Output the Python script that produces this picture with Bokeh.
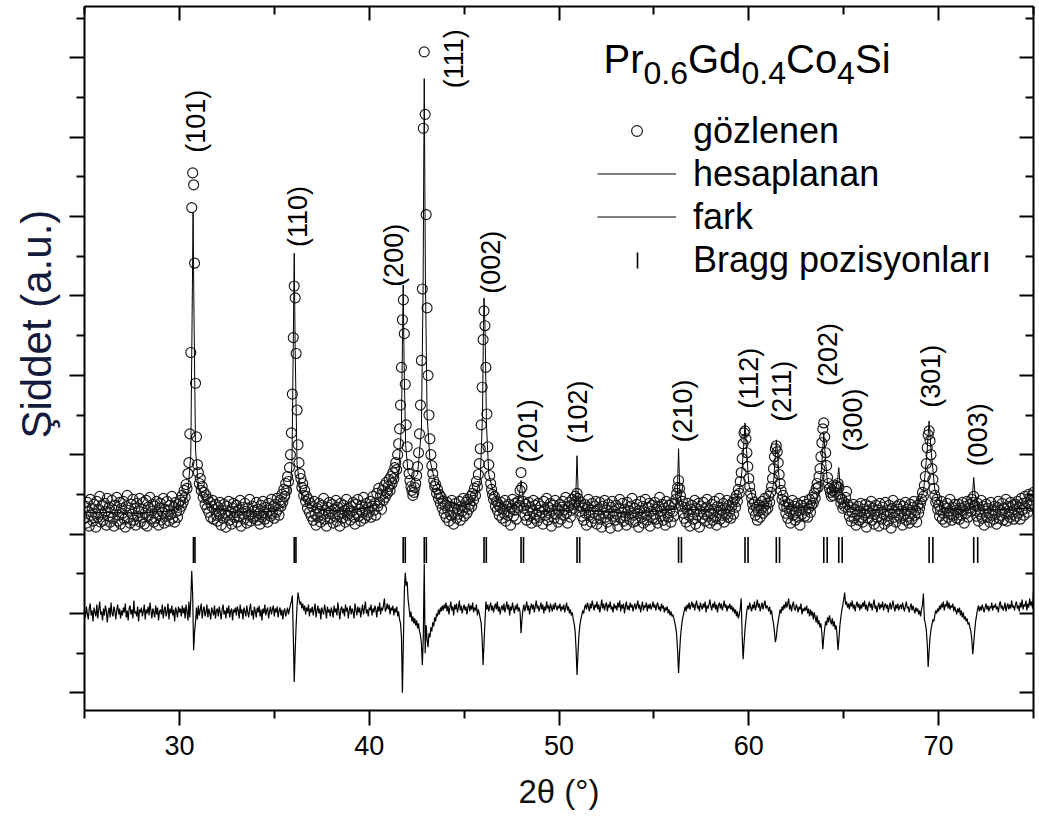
import numpy as np
from math import pi
from bokeh.plotting import figure
from bokeh.models import (Range1d, FixedTicker, LinearAxis, Label, Legend, LegendItem,
                          ColumnDataSource, Title, BoxAnnotation)
from bokeh.core.properties import value
from bokeh.embed import file_html
from bokeh.resources import INLINE

FONT = "Liberation Sans"

# ---- scan: 2theta from 25 to 75 deg, step 0.05 deg ----
scan_start = 25.0
scan_step = 0.05

# observed intensity (a.u.), one row per degree (20 points per row)
observed = [
    96, 108, 91, 112, 103, 88, 115, 99, 106, 93, 110, 101, 87, 113, 97, 105, 118, 92, 100, 109,        # 25
    94, 111, 103, 89, 116, 98, 107, 92, 102, 114, 96, 88, 109, 104, 117, 93, 99, 112, 90, 106,        # 26
    101, 113, 95, 87, 108, 119, 97, 104, 91, 110, 100, 115, 94, 106, 89, 111, 98, 103, 116, 92,       # 27
    105, 97, 112, 90, 101, 114, 88, 107, 99, 117, 95, 103, 110, 92, 108, 96, 113, 100, 89, 106,       # 28
    111, 94, 102, 116, 91, 105, 98, 113, 104, 93, 109, 100, 118, 96, 107, 92, 112, 103, 97, 110,      # 29
    104, 114, 108, 119, 112, 124, 117, 130, 126, 141, 152, 181, 263, 409, 444, 432, 353, 232, 178, 150,  # 30
    142, 131, 136, 124, 128, 117, 122, 110, 119, 106, 115, 102, 112, 97, 108, 114, 95, 105, 110, 99,  # 31
    93, 107, 100, 112, 89, 104, 96, 110, 101, 87, 108, 99, 113, 94, 102, 90, 106, 111, 97, 103,       # 32
    109, 92, 104, 98, 114, 88, 101, 107, 95, 111, 103, 91, 106, 99, 115, 93, 100, 108, 96, 104,       # 33
    98, 112, 94, 105, 101, 90, 109, 97, 113, 102, 95, 107, 100, 92, 111, 104, 98, 115, 101, 108,      # 34
    96, 110, 102, 116, 105, 99, 114, 108, 120, 112, 125, 118, 131, 124, 138, 133, 147, 160, 182, 221,  # 35
    278, 330, 318, 262, 205, 170, 152, 141, 136, 127, 131, 119, 124, 113, 118, 106, 115, 102, 111, 98,  # 36
    108, 94, 113, 100, 89, 106, 97, 111, 103, 92, 109, 99, 116, 95, 104, 88, 107, 101, 112, 96,       # 37
    103, 110, 91, 105, 98, 114, 93, 107, 100, 88, 111, 102, 96, 109, 104, 92, 115, 99, 106, 101,      # 38
    94, 108, 103, 112, 97, 90, 110, 101, 115, 98, 105, 93, 109, 102, 117, 96, 104, 111, 99, 107,      # 39
    102, 113, 97, 108, 118, 104, 111, 99, 121, 108, 126, 112, 119, 105, 124, 114, 129, 117, 132, 121,  # 40
    128, 135, 124, 138, 131, 142, 136, 147, 152, 145, 160, 171, 186, 210, 248, 296, 316, 282, 231, 190,  # 41
    168, 150, 141, 134, 128, 124, 119, 122, 127, 131, 139, 148, 162, 181, 210, 255, 327, 489, 566, 503,  # 42
    402, 308, 240, 200, 176, 160, 149, 141, 134, 128, 130, 121, 125, 116, 120, 111, 117, 106, 113, 101,  # 43
    109, 97, 112, 104, 93, 108, 99, 114, 102, 90, 106, 111, 96, 105, 100, 113, 94, 108, 103, 116,     # 44
    98, 107, 112, 101, 115, 105, 110, 118, 108, 121, 114, 126, 119, 133, 128, 140, 151, 166, 190, 228,  # 45
    276, 305, 290, 248, 201, 168, 150, 139, 131, 125, 120, 115, 118, 108, 113, 104, 110, 99, 107, 112,  # 46
    96, 105, 101, 114, 93, 108, 99, 110, 103, 89, 106, 115, 98, 104, 111, 95, 107, 113, 109, 124,     # 47
    142, 127, 113, 106, 99, 110, 94, 104, 112, 98, 107, 91, 103, 114, 96, 109, 100, 93, 111, 104,     # 48
    97, 108, 102, 90, 113, 105, 99, 116, 94, 107, 101, 111, 88, 104, 109, 96, 114, 100, 106, 92,      # 49
    103, 110, 95, 107, 113, 99, 105, 117, 101, 91, 108, 112, 97, 104, 115, 106, 110, 118, 113, 121,   # 50
    116, 109, 103, 112, 98, 106, 94, 110, 101, 89, 107, 115, 99, 104, 92, 111, 102, 96, 108, 113,     # 51
    90, 105, 99, 112, 95, 87, 108, 101, 114, 97, 104, 92, 110, 100, 86, 107, 113, 98, 103, 94,        # 52
    109, 100, 88, 106, 115, 96, 102, 111, 93, 105, 98, 89, 112, 104, 95, 108, 101, 116, 92, 99,       # 53
    106, 93, 110, 101, 87, 104, 113, 97, 108, 91, 102, 115, 99, 94, 107, 111, 88, 103, 109, 96,       # 54
    100, 112, 95, 105, 91, 108, 117, 98, 103, 110, 94, 106, 89, 113, 101, 97, 109, 104, 92, 111,      # 55
    103, 98, 110, 115, 121, 127, 134, 126, 119, 108, 113, 101, 96, 107, 92, 104, 111, 99, 88, 105,    # 56
    109, 95, 102, 114, 90, 106, 99, 111, 87, 103, 108, 96, 112, 100, 93, 107, 115, 98, 104, 91,       # 57
    101, 110, 94, 105, 113, 97, 89, 108, 102, 116, 95, 104, 99, 111, 92, 106, 100, 114, 97, 109,      # 58
    103, 96, 108, 112, 100, 115, 107, 119, 113, 125, 121, 133, 142, 156, 171, 182, 184, 176, 162, 148,  # 59
    136, 128, 121, 116, 110, 104, 112, 99, 107, 94, 103, 109, 97, 105, 113, 101, 108, 116, 104, 111,  # 60
    106, 118, 112, 122, 128, 136, 146, 158, 166, 169, 163, 152, 140, 131, 124, 115, 119, 108, 113, 101,  # 61
    107, 96, 110, 103, 91, 105, 114, 99, 108, 94, 102, 111, 97, 104, 89, 109, 100, 106, 113, 98,      # 62
    104, 110, 97, 106, 115, 102, 109, 117, 111, 121, 116, 126, 131, 127, 138, 146, 158, 172, 186, 192,  # 63
    178, 162, 149, 137, 131, 126, 122, 118, 124, 119, 127, 122, 129, 128, 131, 127, 117, 111, 115, 106,  # 64
    112, 108, 117, 123, 110, 104, 98, 107, 93, 102, 110, 96, 105, 89, 100, 108, 94, 103, 111, 97,     # 65
    92, 105, 99, 110, 87, 103, 96, 108, 101, 113, 94, 106, 90, 100, 109, 97, 104, 88, 111, 102,       # 66
    95, 107, 100, 90, 112, 98, 104, 93, 109, 101, 86, 106, 114, 97, 103, 92, 108, 99, 105, 110,       # 67
    96, 103, 89, 108, 100, 112, 94, 105, 98, 91, 110, 102, 95, 107, 113, 99, 104, 92, 109, 101,       # 68
    106, 111, 115, 122, 118, 129, 138, 151, 167, 180, 184, 174, 160, 146, 135, 126, 119, 112, 115, 105,  # 69
    109, 98, 104, 113, 95, 101, 108, 92, 106, 111, 97, 103, 115, 100, 94, 107, 99, 110, 104, 96,      # 70
    102, 110, 95, 106, 99, 112, 104, 91, 108, 101, 113, 97, 106, 110, 103, 115, 112, 118, 109, 104,   # 71
    98, 111, 93, 105, 100, 114, 96, 108, 89, 103, 110, 97, 106, 101, 92, 112, 99, 104, 95, 108,       # 72
    102, 90, 107, 113, 96, 104, 99, 111, 94, 106, 101, 115, 93, 108, 100, 97, 112, 103, 109, 95,      # 73
    105, 110, 98, 113, 101, 107, 95, 116, 104, 111, 99, 118, 106, 112, 102, 120, 109, 114, 108, 119,  # 74
    122,                                                                                               # 75
]

# observed - calculated, same scan points
difference = [
    2, -4, 7, 0, -6, 5, 10, -2, 3, -8, 6, 1, -3, 9, -5, 4, 12, -1, 2, -7,          # 25
    5, -2, 8, 3, -9, 1, 6, -4, 11, 0, -3, 7, 2, -6, 4, 9, -1, 5, -5, 3,            # 26
    -2, 6, 1, 10, -4, 3, -7, 5, 8, -1, 4, -5, 13, 0, 2, -3, 7, -8, 4, 1,           # 27
    6, -3, 2, 9, -6, 4, 0, 7, -2, 11, 3, -5, 5, 1, -4, 8, -1, 6, -7, 2,            # 28
    4, -1, 9, -5, 3, 7, -3, 1, 10, -6, 5, 0, 8, -2, 4, -8, 6, 2, -4, 7,            # 29
    1, 5, -3, 8, 0, 6, -5, 9, 2, -7, 12, -4, 14, 43, 18, -37, -18, -9, 6, -6,      # 30
    8, -2, 4, 10, -5, 3, 7, -3, 1, 9, -4, 5, 0, -6, 6, 2, -2, 8, -5, 3,            # 31
    5, -3, 7, 1, -6, 4, 9, -1, 3, -5, 6, 0, 8, -4, 2, 5, -7, 4, 1, 6,              # 32
    -2, 7, 3, -5, 9, 0, 4, -6, 6, 2, -3, 8, 1, -4, 5, 10, -2, 3, -6, 7,            # 33
    2, -4, 6, 1, 8, -3, 4, -7, 5, 0, 9, -2, 3, 6, -5, 2, 7, -1, 4, 8,              # 34
    -3, 5, 1, 7, -4, 3, 6, -2, 4, -6, 2, 5, -3, 1, 6, -1, 4, 9, 12, 18,            # 35
    -22, -69, -38, -12, 8, 21, 15, 9, 12, 5, 10, 3, 8, -1, 6, 2, 9, -3, 5, 1,      # 36
    7, -2, 4, 10, -4, 3, 8, 0, 5, -6, 6, 2, -1, 9, 3, -5, 7, 1, 4, -3,             # 37
    6, 2, -4, 8, 1, 5, -2, 11, 3, -6, 4, 7, 0, 5, -3, 9, 2, 6, -5, 3,              # 38
    8, -1, 5, 2, -5, 10, 4, -2, 7, 1, 6, -4, 3, 9, -1, 5, 12, 0, 4, -3,            # 39
    6, 3, 9, -2, 5, 1, 8, 4, -4, 7, 2, 11, -1, 6, 3, 8, 15, 2, 5, 10,              # 40
    4, 9, -1, 6, 3, 8, -2, 5, 1, 7, -3, 2, -6, -10, -24, -80, -30, 22, 41, 28,     # 41
    32, 14, 6, -4, 2, -8, -3, -10, -5, -12, -7, -15, -10, -18, -22, -30, -52, -24, 50, -40,  # 42
    -12, -26, -34, -20, -24, -14, -18, -9, -13, -4, -8, 0, -3, 4, -1, 6, 2, 8, 3, 9,  # 43
    5, 11, 2, 8, -1, 6, 12, 3, 7, -2, 9, 4, 10, 1, 6, 13, 3, 8, 0, 5,              # 44
    9, 3, 7, -1, 6, 10, 2, 8, 4, 11, 1, 6, 3, 9, -2, 4, 0, -5, -10, -26,           # 45
    -52, -30, -8, 12, 4, 9, 2, 7, 11, 3, 8, 1, 6, 10, 4, 12, 2, 7, -1, 5,          # 46
    8, 3, 10, 1, 6, 12, 4, 9, -2, 7, 3, 11, 5, 0, 8, 4, 10, 2, 6, 1,               # 47
    -20, -6, 4, 9, 2, 7, 12, 3, 8, -1, 6, 10, 4, 9, 1, 7, 13, 5, 8, 2,             # 48
    6, 11, 4, 9, 0, 7, 3, 12, 5, 8, 1, 10, 6, 2, 9, 4, 11, 7, 3, 8,                # 49
    5, 10, 2, 7, 4, 9, 1, 6, 11, 3, 7, 0, 4, -2, 1, -6, -10, -18, -36, -62,        # 50
    -40, -22, -12, -6, -2, 3, 0, 6, 9, 4, 11, 7, 2, 10, 5, 13, 8, 3, 9, 6,         # 51
    12, 4, 9, 1, 7, 14, 5, 10, 3, 8, 11, 2, 9, 6, 12, 4, 7, 1, 10, 5,              # 52
    8, 3, 11, 6, 13, 2, 9, 5, 10, 0, 7, 12, 4, 8, 3, 11, 6, 9, 2, 7,               # 53
    10, 4, 8, 13, 5, 9, 1, 7, 12, 3, 8, 6, 11, 2, 9, 5, 10, 4, 7, 12,              # 54
    6, 9, 3, 8, 11, 4, 7, 2, 10, 5, 8, 1, 6, 3, 7, 0, 4, -2, 2, -3,                # 55
    -1, -5, -9, -14, -22, -38, -60, -40, -24, -14, -6, -2, 3, 7, 2, 9, 5, 11, 4, 8,  # 56
    12, 6, 10, 3, 9, 13, 5, 8, 2, 11, 7, 4, 10, 6, 12, 1, 8, 5, 9, 14,             # 57
    7, 3, 10, 6, 12, 4, 9, 1, 8, 11, 5, 10, 3, 7, 13, 6, 9, 2, 8, 5,               # 58
    10, 4, 8, 2, 6, 0, 4, -3, 2, -5, -1, 5, 15, -22, -46, -30, -16, -6, 3, 8,      # 59
    4, 11, 6, 2, 9, 5, 12, 3, 8, 14, 6, 10, 2, 7, 11, 4, 9, 13, 5, 8,              # 60
    6, 2, 7, -1, 3, -5, -10, -18, -29, -24, -14, -8, -2, 4, 0, 7, 3, 9, 5, 12,     # 61
    6, 10, 15, 4, 9, 2, 8, 12, 5, 3, 9, 6, 1, 7, 4, 10, -1, 5, 2, 6,               # 62
    3, 8, 0, 5, -3, 4, -2, 2, -6, 1, -4, -9, -2, -11, -7, -14, -10, -20, -36, -24,  # 63
    -15, -8, -12, -4, -9, -2, -7, -11, -5, -13, -8, -16, -12, -22, -37, -25, -12, -4, 3, 8,  # 64
    14, 21, 9, 12, 6, 10, 4, 11, 7, 13, 5, 9, 2, 8, 12, 6, 10, 3, 9, 5,            # 65
    11, 7, 13, 4, 9, 2, 8, 12, 6, 10, 3, 9, 14, 5, 8, 1, 7, 11, 4, 9,              # 66
    6, 12, 3, 8, 10, 5, 9, 1, 7, 11, 4, 8, 13, 6, 2, 9, 5, 10, 3, 7,               # 67
    9, 4, 11, 6, 2, 8, 12, 5, 7, 1, 6, 10, 3, 8, 4, 0, 6, 2, 5, -1,                # 68
    3, -3, 4, 9, 20, -6, -10, -16, -30, -54, -38, -24, -16, -11, -6, -8, -2, 3, 0, 5,  # 69
    2, 8, 4, 10, 6, 12, 3, 9, 7, 13, 5, 11, 4, 8, 6, 10, 2, 7, 3, -1,              # 70
    5, 1, 6, -2, 3, -4, 1, -6, -3, -8, -5, -11, -9, -14, -18, -26, -41, -30, -18, -8,  # 71
    -2, 4, 8, 2, 7, 3, 9, 5, 1, 6, 10, 4, 8, 2, 7, 5, 11, 3, 8, 6,                 # 72
    10, 4, 7, 1, 9, 12, 5, 8, 3, 6, 11, 2, 7, 10, 4, 9, 5, 13, 6, 8,               # 73
    3, 9, 12, 5, 8, 2, 11, 6, 14, 4, 9, 7, 13, 3, 10, 6, 15, 8, 12, 5,             # 74
    22,                                                                            # 75
]

# calculated profile (vertices of the refined curve)
calc_2theta = [
    25.00, 28.00, 29.80, 30.20, 30.45, 30.60, 30.67, 30.72, 30.77, 30.85, 31.00, 31.30, 31.80,
    33.00, 35.00, 35.50, 35.80, 35.93, 36.00, 36.05, 36.10, 36.20, 36.40, 36.80, 37.50,
    39.00, 40.50, 41.20, 41.55, 41.70, 41.75, 41.79, 41.84, 41.92, 42.05, 42.30, 42.55,
    42.75, 42.84, 42.90, 42.96, 43.05, 43.20, 43.50, 44.00, 44.80, 45.50, 45.85, 45.97,
    46.02, 46.05, 46.10, 46.18, 46.30, 46.60, 47.20, 47.80, 47.95, 48.00, 48.06, 48.20,
    49.00, 50.70, 50.88, 50.95, 51.02, 51.20, 54.00, 56.10, 56.23, 56.30, 56.37, 56.55,
    58.80, 59.40, 59.60, 59.72, 59.80, 59.88, 60.00, 60.30, 61.00, 61.30, 61.40, 61.45,
    61.52, 61.62, 61.90, 63.40, 63.75, 63.88, 63.95, 64.02, 64.15, 64.50, 64.68, 64.74,
    64.80, 65.00, 65.50, 68.80, 69.20, 69.38, 69.50, 69.60, 69.80, 70.20, 71.60, 71.78,
    71.85, 71.92, 72.10, 75.00,
]
calc_intensity = [
    102, 101, 104, 110, 122, 160, 300, 404, 300, 165, 128, 114, 106,
    102, 103, 108, 118, 150, 270, 363, 265, 150, 122, 110, 104,
    103, 110, 122, 140, 190, 270, 331, 250, 170, 142, 135, 140,
    185, 330, 539, 340, 200, 155, 130, 115, 108, 112, 135, 200,
    290, 318, 290, 190, 140, 118, 106, 110, 125, 134, 124, 108,
    103, 104, 115, 159, 115, 104, 101, 105, 118, 166, 120, 105,
    104, 115, 135, 165, 192, 165, 130, 110, 108, 130, 160, 175,
    160, 128, 108, 106, 125, 160, 182, 160, 130, 118, 135, 147,
    132, 112, 104, 105, 122, 160, 194, 165, 125, 106, 104, 118,
    137, 120, 104, 106,
]

# reflections: Miller indices and Bragg positions (K-alpha1, K-alpha2)
reflections = ["(101)", "(110)", "(200)", "(111)", "(002)", "(201)", "(102)",
               "(210)", "(112)", "(211)", "(202)", "(300)", "(301)", "(003)"]
bragg_ka1 = [30.74, 36.05, 41.79, 42.90, 46.05, 48.00, 50.95,
             56.30, 59.80, 61.45, 63.95, 64.74, 69.50, 71.85]
bragg_ka2 = [30.82, 36.14, 41.90, 43.01, 46.17, 48.13, 51.09,
             56.45, 59.96, 61.62, 64.13, 64.92, 69.70, 72.06]

x_major_ticks = [30, 40, 50, 60, 70]
x_minor_ticks = [25, 35, 45, 55, 65, 75]

assert len(observed) == len(difference) == 1001
assert len(calc_2theta) == len(calc_intensity)

two_theta = scan_start + scan_step * np.arange(len(observed))

# ---- layout constants ----
FRAME_L, FRAME_R, FRAME_T, FRAME_B = 83, 1033, 6, 710
Y_LO, Y_HI = -97.8, 611.7
BRAGG_Y = 64          # vertical centre of the reflection-marker row
hkl_label_x = [30.89, 36.26, 41.32, 44.47, 46.42, 48.37, 51.00,
               56.53, 60.00, 61.74, 64.16, 65.47, 69.58, 72.05]
hkl_label_y = [496, 400, 361, 559, 354, 184, 203,
               204, 237, 224, 261, 195, 239, 180]

p = figure(width=1039, height=818, output_backend="svg", toolbar_location=None,
           x_range=Range1d(25, 75), y_range=Range1d(Y_LO, Y_HI),
           min_border_left=FRAME_L, min_border_right=1039 - FRAME_R,
           min_border_top=FRAME_T, min_border_bottom=818 - FRAME_B)
p.grid.visible = False
p.outline_line_color = None
p.background_fill_color = "white"
p.border_fill_color = "white"

y_major_ticks = list(range(-80, 600, 80))
y_minor_ticks = list(range(-40, 640, 80))


def style_axis(ax, major, minor, inward, labels):
    ax.ticker = FixedTicker(ticks=major, minor_ticks=minor)
    ax.axis_line_color = "black"
    ax.axis_line_width = 2
    ax.major_tick_line_color = "black"
    ax.minor_tick_line_color = "black"
    ax.major_tick_line_width = 2
    ax.minor_tick_line_width = 2
    if inward:
        ax.major_tick_in, ax.major_tick_out = 14, 0
        ax.minor_tick_in, ax.minor_tick_out = 8, 0
    else:
        ax.major_tick_in, ax.major_tick_out = 0, 15
        ax.minor_tick_in, ax.minor_tick_out = 0, 8
    if labels:
        ax.major_label_text_font = FONT
        ax.major_label_text_font_size = "27px"
        ax.major_label_text_color = "black"
        ax.major_label_standoff = 10
    else:
        ax.major_label_text_font_size = "0px"
        ax.major_label_text_color = None
        ax.major_label_standoff = 0


bottom_ax = p.below[0]
left_ax = p.left[0]
style_axis(bottom_ax, x_major_ticks, x_minor_ticks, False, True)
style_axis(left_ax, y_major_ticks, y_minor_ticks, False, False)
top_ax = LinearAxis()
right_ax = LinearAxis()
style_axis(top_ax, x_major_ticks, x_minor_ticks, True, False)
style_axis(right_ax, y_major_ticks, y_minor_ticks, True, False)
p.add_layout(top_ax, "above")
p.add_layout(right_ax, "right")

# axis titles
bottom_ax.axis_label = "2θ (°)"
bottom_ax.axis_label_text_font = FONT
bottom_ax.axis_label_text_font_size = "33px"
bottom_ax.axis_label_text_font_style = "normal"
bottom_ax.axis_label_text_color = "#111111"
bottom_ax.axis_label_standoff = 15

# vertical title: anchored at its lower end, which sits 272 px above the frame bottom
p.add_layout(Title(text="Şiddet (a.u.)", align="left", offset=272, standoff=20,
                   text_font=FONT, text_font_size="42px", text_font_style="normal",
                   text_color="#141a3c"), "left")

# ---- data ----
obs_src = ColumnDataSource(dict(x=two_theta, y=observed))
obs_r = p.scatter("x", "y", source=obs_src, marker="circle", size=10,
                  fill_color=None, line_color="#1a1a1a", line_width=1.15)
calc_r = p.line(calc_2theta, calc_intensity, line_color="black", line_width=1)
diff_r = p.line(two_theta, difference, line_color="black", line_width=1.2)

bragg_x = bragg_ka1 + bragg_ka2
bragg_r = p.scatter(bragg_x, [BRAGG_Y] * len(bragg_x), marker="dash", angle=pi / 2,
                    size=26, line_color="black", line_width=1.6)

hkl_src = ColumnDataSource(dict(x=hkl_label_x, y=hkl_label_y, t=reflections))
p.text("x", "y", text="t", source=hkl_src, angle=pi / 2, text_align="center",
       text_baseline="middle", text_font=value(FONT), text_font_size="27px", text_color="black")

# ---- legend ----
# the reflection key is drawn as a short vertical bar below; its legend glyph stays blank
bragg_key = p.scatter([], [], marker="dash", line_alpha=0, fill_alpha=0)
legend = Legend(items=[LegendItem(label="gözlenen", renderers=[obs_r]),
                       LegendItem(label="hesaplanan", renderers=[calc_r]),
                       LegendItem(label="fark", renderers=[diff_r]),
                       LegendItem(label="Bragg pozisyonları", renderers=[bragg_key])],
                location=(596 - FRAME_L, FRAME_B - 281), orientation="vertical",
                background_fill_alpha=0, border_line_color=None,
                padding=0, margin=0, spacing=0,
                glyph_width=79, glyph_height=27, label_height=43, label_standoff=17,
                label_text_font=FONT, label_text_font_size="36px", label_text_color="black")
p.add_layout(legend)
p.add_layout(BoxAnnotation(left=635.2 - FRAME_L, right=636.8 - FRAME_L,
                           top=FRAME_B - 252, bottom=FRAME_B - 268,
                           left_units="screen", right_units="screen",
                           top_units="screen", bottom_units="screen",
                           fill_color="black", fill_alpha=1, line_color=None))

# ---- compound name with subscripts ----
formula_parts = [("Pr", 40, 602, 58), ("0.6", 32, 642, 72), ("Gd", 40, 686.5, 58),
                 ("0.4", 32, 740, 72), ("Co", 40, 784.5, 58), ("4", 32, 835.5, 72),
                 ("Si", 40, 853.5, 58)]
for txt, fs, xpx, ypx in formula_parts:
    p.add_layout(Label(x=xpx - FRAME_L, y=FRAME_B - ypx, x_units="screen", y_units="screen",
                       text=txt, text_font=FONT, text_font_size=f"{fs}px",
                       text_align="left", text_baseline="alphabetic", text_color="black"))

open("out.html", "w").write(file_html(p, INLINE))
